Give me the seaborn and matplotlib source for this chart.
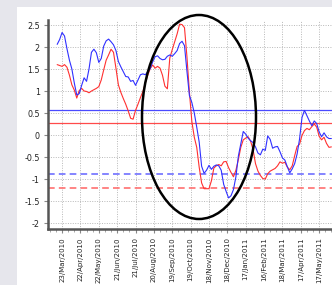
import pandas as pd
import matplotlib
matplotlib.use("Agg")
import matplotlib.pyplot as plt
from matplotlib.patches import Ellipse, Rectangle
import seaborn as sns

# series sampled every 4 days from 15/Mar/2010
start_date = "2010-03-15"
step_days = 4

blue_values = [
    2.06, 2.17, 2.33, 2.25, 1.96, 1.70, 1.50, 1.18, 0.91, 0.94,
    1.13, 1.30, 1.22, 1.50, 1.88, 1.95, 1.87, 1.65, 1.74, 2.02,
    2.14, 2.18, 2.12, 2.05, 1.92, 1.67, 1.55, 1.44, 1.33, 1.32,
    1.22, 1.24, 1.13, 1.25, 1.37, 1.39, 1.37, 1.44, 1.51, 1.66,
    1.78, 1.80, 1.74, 1.71, 1.72, 1.79, 1.82, 1.79, 1.85, 1.92,
    2.08, 2.13, 2.03, 1.45, 0.90, 0.74, 0.50, 0.18, -0.16, -0.71,
    -0.87, -0.80, -0.69, -0.78, -0.71, -0.68, -0.70, -0.80, -1.12, -1.28,
    -1.43, -1.38, -1.24, -0.95, -0.48, -0.20, 0.08, 0.02, -0.07, -0.13,
    -0.17, -0.27, -0.41, -0.45, -0.32, -0.35, -0.02, -0.10, -0.30, -0.27,
    -0.26, -0.38, -0.52, -0.57, -0.72, -0.86, -0.77, -0.65, -0.43, -0.09,
    0.40, 0.56, 0.44, 0.32, 0.21, 0.32, 0.26, 0.07, -0.04, 0.05,
    -0.04, -0.08, -0.08,
]
red_values = [
    1.60, 1.58, 1.56, 1.60, 1.54, 1.36, 1.14, 1.02, 0.84, 1.01,
    1.06, 1.00, 0.99, 0.96, 1.00, 1.03, 1.06, 1.10, 1.25, 1.48,
    1.70, 1.82, 1.95, 1.88, 1.52, 1.14, 0.97, 0.83, 0.70, 0.55,
    0.38, 0.36, 0.56, 0.70, 0.85, 0.99, 1.18, 1.36, 1.51, 1.59,
    1.52, 1.56, 1.52, 1.36, 1.11, 1.05, 1.75, 1.94, 2.12, 2.30,
    2.52, 2.51, 2.44, 1.78, 0.98, 0.31, -0.05, -0.28, -0.73, -1.09,
    -1.22, -1.22, -1.22, -1.04, -0.75, -0.70, -0.67, -0.70, -0.61, -0.60,
    -0.74, -0.85, -0.95, -0.80, -0.56, -0.28, -0.11, -0.07, -0.04, -0.14,
    -0.33, -0.65, -0.82, -0.92, -0.99, -1.00, -0.88, -0.82, -0.79, -0.76,
    -0.70, -0.61, -0.64, -0.62, -0.73, -0.79, -0.70, -0.47, -0.26, -0.21,
    -0.01, 0.10, 0.15, 0.12, 0.19, 0.25, 0.18, -0.03, -0.11, -0.05,
    -0.19, -0.28, -0.27,
]

# reference levels
blue_upper = 0.56
red_upper = 0.27
blue_lower = -0.89
red_lower = -1.20

y_ticks = [-2, -1.5, -1, -0.5, 0, 0.5, 1, 1.5, 2, 2.5]
y_tick_labels = ["-2", "-1.5", "-1", "-0.5", "0", "0.5", "1", "1.5", "2", "2.5"]
x_tick_start = "2010-03-23"
x_tick_count = 15

dates = pd.date_range(start_date, periods=len(blue_values), freq=f"{step_days}D")
df = pd.DataFrame({"date": dates, "blue": blue_values, "red": red_values})

sns.set_style("white")
plt.rcParams["font.family"] = ["DejaVu Sans"]

fig = plt.figure(figsize=(3.32, 2.85), dpi=100)
fig.patch.set_facecolor("#e6e6ec")
fig.add_artist(Rectangle((17 / 332, 0), 1, 1 - 7 / 285, transform=fig.transFigure,
                         facecolor="white", edgecolor="none", zorder=-1))

ax = fig.add_axes([48 / 332, 1 - 229 / 285, 1 - 48 / 332, (229 - 20) / 285])
ax.set_facecolor("white")

ax.axhline(blue_upper, color="#4a4aff", lw=0.9, zorder=2)
ax.axhline(red_upper, color="#ff4a4a", lw=0.9, zorder=2)
ax.axhline(blue_lower, color="#6f6fff", lw=1.2, ls=(0, (4, 2.5)), zorder=2)
ax.axhline(red_lower, color="#ff7070", lw=1.2, ls=(0, (4, 2.5)), zorder=2)

sns.lineplot(data=df, x="date", y="red", ax=ax, color="#ff3030", lw=0.8, zorder=3)
sns.lineplot(data=df, x="date", y="blue", ax=ax, color="#3030ff", lw=0.8, zorder=4)

ax.set_xlim(pd.Timestamp("2010-02-28"), pd.Timestamp("2011-06-07"))
ax.set_ylim(-2.136, 2.614)

major = pd.date_range(x_tick_start, periods=x_tick_count, freq="30D")
ax.set_xticks(major)
ax.set_xticklabels([d.strftime("%d/%b/%Y") for d in major], rotation=90, fontsize=5.0)
ax.set_xticks(pd.date_range("2010-03-03", "2011-06-07", freq="10D"), minor=True)
ax.set_yticks(y_ticks)
ax.set_yticklabels(y_tick_labels, fontsize=5.8)

ax.grid(True, which="major", color="#b8b8b8", lw=0.7, ls=(0, (1, 1.5)))
ax.tick_params(axis="both", which="major", length=3, color="#888888", pad=3, labelcolor="#222222")
ax.tick_params(axis="x", which="minor", length=2, color="#999999", bottom=True)
ax.tick_params(axis="y", left=True)
ax.tick_params(axis="x", bottom=True)

ax.set_xlabel("")
ax.set_ylabel("")
for side in ["top", "right"]:
    ax.spines[side].set_visible(False)
for side in ["left", "bottom"]:
    ax.spines[side].set_color("#555555")
    ax.spines[side].set_linewidth(1.8)

# hand-drawn highlight around the crash
fig.add_artist(Ellipse((199 / 332, 1 - 117 / 285), 114 / 332, 204 / 285,
                       transform=fig.transFigure, fill=False, edgecolor="black",
                       lw=1.8, zorder=10))

fig.savefig("out.png", dpi=100)
